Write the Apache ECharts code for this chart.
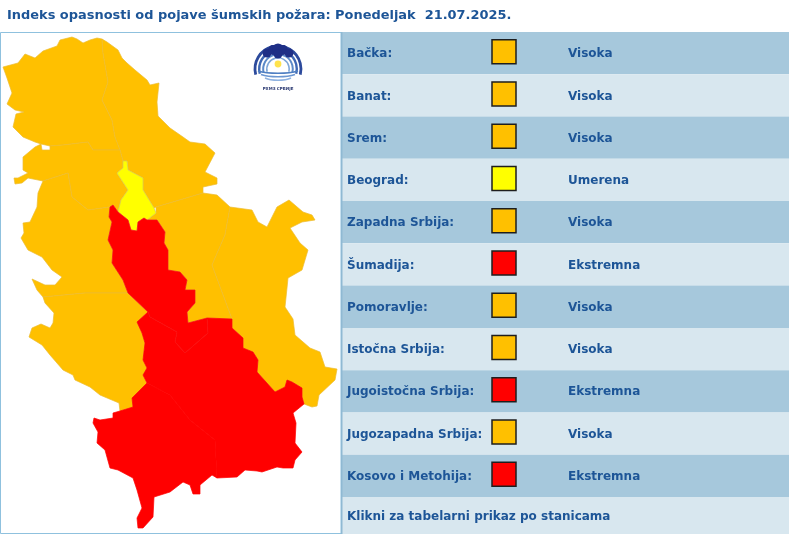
<!DOCTYPE html>
<html><head><meta charset="utf-8">
<style>html,body{margin:0;padding:0;background:#fff;overflow:hidden;height:537px}#c{width:790px;height:545px}</style>
<script src="https://cdn.jsdelivr.net/npm/echarts@6/dist/echarts.min.js"></script>
</head><body><div id="c"></div>
<script>
const titleText = 'Indeks opasnosti od pojave šumskih požara: Ponedeljak  21.07.2025.';
const regions = ['Bačka','Banat','Srem','Beograd','Zapadna Srbija','Šumadija','Pomoravlje','Istočna Srbija','Jugoistočna Srbija','Jugozapadna Srbija','Kosovo i Metohija'];
const levels = ['Visoka','Visoka','Visoka','Umerena','Visoka','Ekstremna','Visoka','Visoka','Ekstremna','Visoka','Ekstremna'];
const footerText = 'Klikni za tabelarni prikaz po stanicama';
const levelColors = {Visoka:'#ffc000',Umerena:'#ffff00',Ekstremna:'#ff0000'};
const levelEdges = {Visoka:'#ecbc30',Umerena:'#d9cf4a',Ekstremna:'#ff0000'};
const drawOrder = ['Bačka','Banat','Srem','Zapadna Srbija','Pomoravlje','Istočna Srbija','Jugozapadna Srbija','Beograd','Jugoistočna Srbija','Kosovo i Metohija','Šumadija'];

const outlines = {
 'Bačka':[[102,39],[97,38],[90,40],[83,43],[77,39],[72,37],[60,40],[57,46],[43,51],[35,58],[25,54],[18,63],[3,67],[7,78],[12,93],[7,104],[15,110],[24,112],[16,114],[13,127],[23,137],[35,142],[41,144],[50,146],[63,145],[88,142],[93,150],[120,150],[115,137],[112,120],[102,100],[108,82],[103,53]],
 'Banat':[[102,39],[107,42],[118,50],[122,58],[127,63],[135,70],[147,80],[150,85],[159,83],[157,102],[158,116],[170,128],[183,137],[190,142],[205,144],[215,153],[205,172],[217,178],[217,184],[203,187],[203,193],[156,207],[154,208],[143,190],[143,178],[128,170],[127,161],[123,161],[120,150],[115,137],[112,120],[102,100],[108,82],[103,53]],
 'Srem':[[120,150],[93,150],[88,142],[63,145],[50,146],[50,150],[42,150],[41,144],[35,147],[23,157],[23,170],[28,173],[18,178],[14,178],[15,184],[22,183],[28,178],[43,181],[68,173],[72,197],[88,210],[110,207],[113,205],[118,212],[121,200],[128,190],[117,173],[123,168],[123,161]],
 'Beograd':[[123,161],[127,161],[128,170],[143,178],[143,190],[154,208],[156,213],[147,220],[144,218],[138,222],[137,231],[131,230],[128,220],[118,212],[121,200],[128,190],[117,173],[123,168]],
 'Zapadna Srbija':[[43,181],[38,193],[37,207],[30,222],[23,223],[24,233],[21,238],[28,250],[42,257],[52,270],[62,277],[55,285],[45,285],[32,279],[37,290],[43,297],[85,293],[128,293],[123,280],[112,263],[113,250],[108,240],[112,222],[109,217],[110,207],[88,210],[72,197],[68,173]],
 'Šumadija':[[110,207],[113,205],[118,212],[128,220],[131,230],[137,231],[138,222],[144,218],[147,220],[157,220],[165,232],[164,243],[168,250],[168,270],[180,272],[187,280],[185,290],[195,290],[195,303],[187,312],[188,323],[207,318],[208,333],[185,353],[175,342],[177,332],[150,317],[148,312],[128,293],[123,280],[112,263],[113,250],[108,240],[112,222],[109,217]],
 'Pomoravlje':[[157,220],[147,220],[156,213],[156,207],[203,193],[217,195],[230,207],[225,235],[212,265],[225,300],[232,319],[207,318],[188,323],[187,312],[195,303],[195,290],[185,290],[187,280],[180,272],[168,270],[168,250],[164,243],[165,232]],
 'Istočna Srbija':[[230,207],[252,210],[258,222],[267,227],[277,207],[289,200],[303,212],[312,215],[315,220],[302,222],[290,228],[300,243],[308,250],[302,270],[288,278],[287,288],[285,307],[293,319],[295,335],[310,348],[320,352],[325,367],[337,369],[335,380],[319,395],[317,406],[312,407],[304,404],[302,397],[302,388],[292,382],[287,380],[285,387],[275,392],[257,372],[258,360],[253,352],[243,348],[243,338],[232,328],[232,319],[225,300],[212,265],[225,235]],
 'Jugoistočna Srbija':[[148,312],[137,322],[142,333],[145,343],[143,360],[147,368],[143,375],[147,383],[170,395],[190,420],[215,440],[217,478],[237,477],[245,470],[257,471],[262,472],[277,467],[283,468],[293,468],[295,460],[302,452],[295,443],[296,423],[293,413],[304,404],[302,397],[302,388],[292,382],[287,380],[285,387],[275,392],[257,372],[258,360],[253,352],[243,348],[243,338],[232,328],[232,319],[207,318],[208,333],[185,353],[175,342],[177,332],[150,317]],
 'Jugozapadna Srbija':[[43,297],[85,293],[128,293],[148,312],[137,322],[142,333],[145,343],[143,360],[147,368],[143,375],[147,383],[135,395],[132,398],[133,407],[120,411],[119,403],[100,395],[90,387],[75,380],[73,375],[63,370],[50,355],[42,345],[29,337],[32,328],[41,324],[50,328],[53,323],[54,313],[45,303]],
 'Kosovo i Metohija':[[120,411],[113,413],[113,418],[100,420],[94,418],[93,423],[98,432],[97,443],[105,450],[110,468],[118,470],[133,478],[137,490],[142,508],[137,518],[138,528],[143,528],[153,517],[154,497],[170,492],[183,482],[190,485],[193,494],[200,494],[200,485],[212,475],[217,478],[215,440],[190,420],[170,395],[147,383],[135,395],[132,398],[133,407]]
};

const serbia = {type:'FeatureCollection',features:drawOrder.map(n=>({type:'Feature',properties:{name:n},geometry:{type:'Polygon',coordinates:[outlines[n].concat([outlines[n][0]])]}}))};
echarts.registerMap('serbia',serbia);

const TEXT='#1d5597', FONT='"DejaVu Sans",Verdana,sans-serif';
const rowNames = regions.concat([footerText]);
const ROW=42.27;
const chart = echarts.init(document.getElementById('c'),null,{renderer:'canvas'});

const arch=(r,c,w)=>({type:'arc',shape:{cx:278,cy:69,r,startAngle:Math.PI*0.92,endAngle:Math.PI*2.08,clockwise:true},style:{fill:null,stroke:c,lineWidth:w},z:20,silent:true});
const wave=(y,hw,c)=>({type:'bezierCurve',shape:{x1:278-hw,y1:y,cpx1:278-hw/2,cpy1:y+3,cpx2:278+hw/2,cpy2:y+3,x2:278+hw,y2:y},style:{fill:null,stroke:c,lineWidth:1.5},z:20,silent:true});
const puff=(cx,cy,r)=>({type:'circle',shape:{cx,cy,r},style:{fill:'#1f2f86'},z:21,silent:true});

chart.setOption({
 animation:false,
 backgroundColor:'#fff',
 title:{text:titleText,left:7,top:9,padding:0,textStyle:{fontFamily:FONT,fontSize:12.95,fontWeight:'bold',color:TEXT}},
 grid:{left:342,top:32,width:447,height:ROW*12,containLabel:false},
 xAxis:{type:'value',min:0,max:447,show:false},
 yAxis:{type:'category',inverse:true,data:rowNames,axisLine:{show:false},axisTick:{show:false},splitLine:{show:false},
   axisLabel:{inside:true,margin:5,interval:0,
     formatter:v=>v===footerText?'{f|'+v+'}':'{r|'+v+':}',
     rich:{
       r:{color:TEXT,fontFamily:FONT,fontSize:12,fontWeight:'bold',padding:[2,0,0,0]},
       f:{color:TEXT,fontFamily:FONT,fontSize:12,fontWeight:'bold',padding:[0,0,3,0]}
     }},z:10},
 graphic:[
  {type:'rect',shape:{x:0.5,y:32.5,width:340.5,height:501},style:{fill:'#fff',stroke:'#8fc1de',lineWidth:1},z:-5,silent:true},
  {type:'rect',shape:{x:341,y:32,width:1.5,height:502},style:{fill:'#8fb9d3'},z:8,silent:true},
  {type:'rect',shape:{x:342,y:534,width:448,height:12},style:{fill:'#fff'},z:9,silent:true},
  {type:'group',z:20,silent:true,children:[
    arch(23,'#2c4a9c',2.8),arch(18.8,'#3f68b4',2.4),arch(14.8,'#5d8ac8',2),arch(11.2,'#7ea6d8',1.6),
    puff(267,53,4.5),puff(273,50,5),puff(278,49,5.5),puff(283,50,5),puff(289,53,4.5),puff(278,54,4.5),
    {type:'circle',shape:{cx:278,cy:64,r:3.4},style:{fill:'#ffe34d'},z:21,silent:true},
    wave(71,20,'#4f7fc2'),wave(74.5,17,'#6c97d2'),wave(78,13,'#8fb2e0'),
    {type:'text',style:{text:'РХМЗ СРБИЈЕ',x:278,y:89,align:'center',verticalAlign:'middle',font:'bold 4px "DejaVu Sans"',fill:'#26356f'},z:21,silent:true}
  ]}
 ],
 series:[
  {type:'map',map:'serbia',left:3,top:37,width:334,height:491,roam:false,silent:true,selectedMode:false,
   projection:{project:p=>p,unproject:p=>p},
   label:{show:false},emphasis:{disabled:true},z:2,
   data:regions.map((n,i)=>({name:n,value:i,itemStyle:{areaColor:levelColors[levels[i]],borderColor:n==='Šumadija'?'#f81010':levelEdges[levels[i]],borderWidth:0.7}}))},
  {type:'bar',barWidth:'100%',silent:true,z:3,
   data:rowNames.map((n,i)=>({value:447,itemStyle:{color:i%2?'#d8e7ef':'#a6c8dc'}}))},
  {type:'scatter',symbol:'rect',symbolSize:24,symbolOffset:[0,-1.5],silent:true,z:5,
   data:regions.map((n,i)=>({value:[162,n],itemStyle:{opacity:1,color:levelColors[levels[i]],borderColor:'#1e1e1e',borderWidth:1.5}}))},
  {type:'scatter',symbolSize:0,silent:true,z:6,
   data:regions.map((n,i)=>({value:[226,n],label:{show:true,position:'right',distance:0,offset:[0,1],opacity:1,formatter:levels[i],color:TEXT,fontFamily:FONT,fontSize:12,fontWeight:'bold'}}))}
 ]
});
</script></body></html>
